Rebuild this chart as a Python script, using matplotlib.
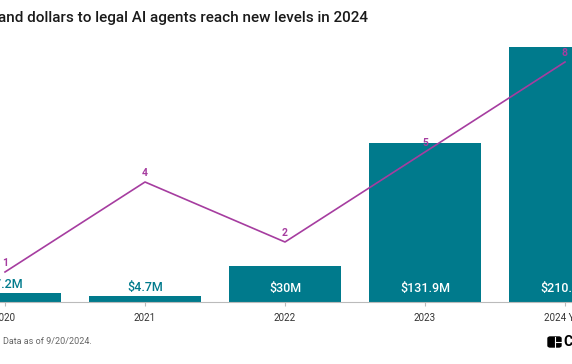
import matplotlib.pyplot as plt
import matplotlib.patches as mpatches
import numpy as np

plt.rcParams['font.family'] = ['Roboto', 'DejaVu Sans']

years = ['2020', '2021', '2022', '2023', '2024 YTD']
funding = [7.2, 4.7, 30.0, 131.9, 210.9]  # $M
funding_labels = ['$7.2M', '$4.7M', '$30M', '$131.9M', '$210.9M']
deals = [1, 4, 2, 5, 8]

teal = '#007a8c'
purple = '#a63da0'

W, H = 572, 364
fig = plt.figure(figsize=(W / 100, H / 100), dpi=100)

# axes spans the whole width; x=0 sits at 5px, 140px per year
base_px, top_px = 302, 40
ax = fig.add_axes([0, (H - base_px) / H, 1, (base_px - top_px) / H])
x = np.arange(len(years))
ax.set_xlim(-5 / 140, (W - 5) / 140)
ax.set_ylim(0, (base_px - top_px) / 1.207)

ax.bar(x, funding, width=0.8, color=teal, zorder=2)

for xi, v, lab in zip(x, funding, funding_labels):
    if v > 20:
        ax.annotate(lab, (xi, 0), xytext=(0, 5), textcoords='offset points',
                    ha='center', va='bottom', color='white', fontsize=9,
                    fontweight='medium', zorder=5)
    else:
        ax.annotate(lab, (xi, v), xytext=(0, 1.5), textcoords='offset points',
                    ha='center', va='bottom', color=teal, fontsize=9,
                    fontweight='medium', zorder=5)

for s in ['top', 'right', 'left']:
    ax.spines[s].set_visible(False)
ax.spines['bottom'].set_color('#bbbbbb')
ax.set_yticks([])
ax.set_xticks(x)
ax.set_xticklabels(years, fontsize=7, color='#333333')
ax.tick_params(axis='x', length=3, color='#bbbbbb', pad=5)

ax2 = ax.twinx()
ax2.set_ylim(0, (base_px - top_px) / 30)
ax2.plot(x, deals, color=purple, lw=1.2, zorder=4)
for xi, d in zip(x, deals):
    ax2.annotate(str(d), (xi, d), xytext=(0, 3), textcoords='offset points',
                 ha='center', va='bottom', color=purple, fontsize=7.5,
                 fontweight='bold')
ax2.axis('off')

fig.text(368 / W, 1 - 18 / H, 'Deals and dollars to legal AI agents reach new levels in 2024',
         ha='right', va='center', fontsize=11, fontweight='medium', color='#1a1a1a')
fig.text(3 / W, 1 - 342 / H, 'Data as of 9/20/2024.', ha='left', va='center',
         fontsize=6.5, color='#666666')

# logo
fig.patches.append(mpatches.FancyBboxPatch((548 / W, 1 - 347 / H), 13 / W, 10 / H,
                                           boxstyle='round,pad=0,rounding_size=0.004',
                                           transform=fig.transFigure, color='black'))
fig.add_artist(plt.Line2D([554.5 / W, 554.5 / W], [1 - 347 / H, 1 - 337 / H],
                          transform=fig.transFigure, color='white', lw=0.8))
fig.add_artist(plt.Line2D([554.5 / W, 561 / W], [1 - 342 / H, 1 - 342 / H],
                          transform=fig.transFigure, color='white', lw=0.8))
fig.text(563 / W, 1 - 342 / H, 'C', ha='left', va='center', fontsize=10,
         fontweight='bold', color='black')

fig.savefig('out.png', dpi=100)
